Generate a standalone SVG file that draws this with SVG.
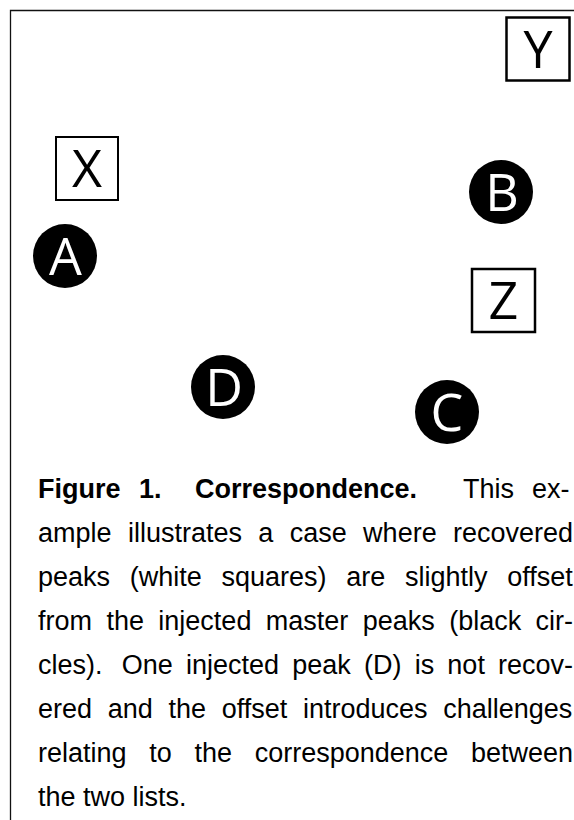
<svg xmlns="http://www.w3.org/2000/svg" width="574" height="820" viewBox="0 0 574 820">
<style>
.box{fill:#fff;stroke:#000;stroke-width:2.5}
.dot{fill:#000}
.bl{font-family:"Open Sans","Noto Sans",sans-serif;font-size:52px;text-anchor:middle}
.bk{fill:#000}
.wt{fill:#fff}
.cap{font-family:"Liberation Sans",Arial,sans-serif;font-size:27px;fill:#000}
.b{font-weight:bold}
.frame{stroke:#111;stroke-width:1.3;fill:none}
</style>
<rect width="574" height="820" fill="#fff"/>
<path class="frame" d="M10.5,820 V10.5 H574"/>
<g id="Y"><rect class="box" x="506.5" y="17.5" width="63" height="63"/><text class="bl bk" x="538" y="67.5">Y</text></g>
<g id="X"><rect class="box" x="56" y="137" width="62" height="63" style="stroke-width:2"/><text class="bl bk" x="87" y="187">X</text></g>
<g id="A"><circle class="dot" cx="65" cy="256" r="32"/><text class="bl wt" x="65.5" y="274.5">A</text></g>
<g id="B"><circle class="dot" cx="501" cy="192" r="32"/><text class="bl wt" x="502" y="210.5">B</text></g>
<g id="Z"><rect class="box" x="472" y="269" width="63" height="63"/><text class="bl bk" x="503.5" y="319">Z</text></g>
<g id="D"><circle class="dot" cx="223" cy="387" r="32"/><text class="bl wt" x="224" y="405.5">D</text></g>
<g id="C"><circle class="dot" cx="447" cy="412" r="32"/><text class="bl wt" x="447" y="430.5">C</text></g>
<g id="connectors"/>
<g id="caption" class="cap">
<text y="498"><tspan class="b" x="38">Figure</tspan><tspan class="b" x="139">1.</tspan><tspan class="b" x="195">Correspondence.</tspan><tspan x="463">This</tspan><tspan x="532">ex-</tspan></text>
<text x="38" y="542" word-spacing="8.87">ample illustrates a case where recovered</text>
<text x="38" y="586" word-spacing="12.2">peaks (white squares) are slightly offset</text>
<text x="38" y="630" word-spacing="6.9">from the injected master peaks (black cir-</text>
<text x="38" y="674" word-spacing="5.7">cles).<tspan dx="6"> One injected peak (D) is not recov-</tspan></text>
<text x="38" y="718" word-spacing="8.2">ered and the offset introduces challenges</text>
<text x="38" y="762" word-spacing="15.2">relating to the correspondence between</text>
<text x="38" y="806">the two lists.</text>
</g>
</svg>
